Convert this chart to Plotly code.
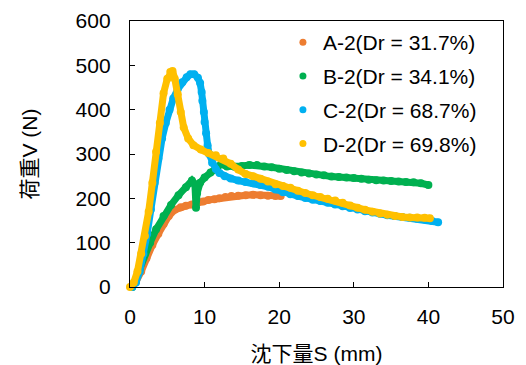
import plotly.graph_objects as go

# A-2 (Dr = 31.7%)
a_x = [0.2, 0.8, 1.5, 2.2, 3.0, 3.8, 4.5, 5.2, 6.0, 6.8, 7.5, 8.3, 9.0, 9.8, 10.5, 11.3, 12.0, 12.8, 13.6, 14.5, 15.5, 16.5, 17.5, 18.5, 19.5, 20.2]
a_y = [0, 12, 35, 65, 95, 120, 142, 160, 174, 180, 183, 186, 190, 193, 196, 198, 200, 203, 205, 206, 207, 208, 207, 206, 205, 205]

# B-2 (Dr = 34.1%)
b_x = [0.3, 0.8, 1.3, 2.0, 2.7, 3.5, 4.5, 5.5, 6.5, 7.5, 8.3, 8.7, 8.85, 8.85, 9.0, 9.4, 10.0, 10.8, 11.5, 12.2, 13.0, 14.0, 15.0, 16.0, 17.0, 18.0, 19.0, 20.0, 21.0, 22.0, 23.0, 24.0, 25.0, 26.0, 27.0, 28.0, 29.0, 30.0, 31.0, 32.0, 33.0, 34.0, 35.0, 36.0, 37.0, 38.0, 39.0, 40.0]
b_y = [0, 15, 40, 75, 100, 130, 160, 185, 207, 225, 240, 232, 207, 179, 212, 235, 247, 258, 268, 277, 272, 271, 273, 275, 275, 272, 270, 267, 264, 261, 258, 256, 254, 252, 249, 248, 247, 246, 244, 242, 241, 240, 239, 238, 237, 236, 234, 230]

# C-2 (Dr = 68.7%)
c_x = [0.3, 0.8, 1.3, 1.8, 2.3, 2.8, 3.3, 3.8, 4.3, 4.8, 5.3, 5.8, 6.4, 7.0, 7.6, 8.1, 8.6, 9.1, 9.4, 9.6, 9.7, 9.9, 10.0, 10.2, 10.4, 10.6, 11.0, 11.5, 12.0, 12.7, 13.5, 14.5, 15.5, 16.5, 17.5, 18.5, 19.5, 20.5, 21.5, 22.5, 23.5, 24.5, 25.5, 26.5, 27.5, 28.5, 29.5, 30.5, 31.5, 32.5, 33.5, 34.5, 35.5, 36.5, 37.5, 38.5, 39.5, 40.5, 41.3]
c_y = [0, 10, 35, 75, 120, 175, 235, 290, 335, 370, 400, 425, 446, 462, 473, 480, 480, 472, 460, 440, 420, 395, 372, 347, 320, 300, 280, 266, 257, 250, 245, 240, 237, 234, 230, 226, 220, 214, 209, 205, 201, 197, 194, 190, 186, 182, 178, 175, 171, 168, 165, 162, 160, 158, 156, 154, 152, 149, 146]

# D-2 (Dr = 69.8%)
d_x = [0.0, 0.5, 1.0, 1.5, 2.0, 2.5, 3.0, 3.5, 4.0, 4.5, 5.0, 5.4, 5.7, 6.0, 6.4, 6.8, 7.2, 7.8, 8.5, 9.5, 10.5, 11.5, 12.5, 13.5, 14.5, 15.5, 16.5, 17.5, 18.5, 19.5, 20.5, 21.5, 22.5, 23.5, 24.5, 25.5, 26.5, 27.5, 28.5, 29.5, 30.5, 31.5, 32.5, 33.5, 34.5, 35.5, 36.5, 37.5, 38.5, 39.5, 40.2]
d_y = [0, 10, 35, 75, 115, 170, 235, 305, 370, 437, 470, 485, 487, 470, 435, 395, 360, 335, 320, 310, 302, 297, 290, 278, 265, 255, 250, 244, 238, 232, 228, 224, 217, 212, 207, 203, 199, 195, 190, 184, 179, 174, 170, 166, 163, 160, 158, 157, 157, 156, 155]

names = ["A-2(Dr = 31.7%)", "B-2(Dr = 34.1%)", "C-2(Dr = 68.7%)", "D-2(Dr = 69.8%)"]
colors = ["#ED7D31", "#00B050", "#00B0F0", "#FFC000"]
series = [(a_x, a_y), (b_x, b_y), (c_x, c_y), (d_x, d_y)]

FONT = "Arial, 'Liberation Sans', 'Noto Sans CJK JP', sans-serif"
FS = 21

fig = go.Figure()
for (xs, ys), name, col in zip(series, names, colors):
    fig.add_trace(go.Scatter(
        x=xs, y=ys, mode="lines+markers", name=name, showlegend=False,
        line=dict(color=col, width=7), marker=dict(color=col, size=8),
        cliponaxis=False, legendgroup=name,
    ))
for name, col in zip(names, colors):
    fig.add_trace(go.Scatter(
        x=[None], y=[None], mode="markers", name=name,
        marker=dict(color=col, size=7), legendgroup=name,
    ))

axis_common = dict(
    showline=True, linecolor="black", linewidth=1.3, mirror=True,
    ticks="inside", ticklen=5, tickcolor="black", tickwidth=1.3,
    showgrid=False, zeroline=False, automargin=False,
    tickfont=dict(size=FS, color="black", family=FONT),
)

fig.update_layout(
    width=526, height=365,
    margin=dict(l=130, r=23, t=21, b=78),
    paper_bgcolor="white", plot_bgcolor="white",
    font=dict(family=FONT, size=FS, color="black"),
    xaxis=dict(range=[0, 50], dtick=10, tick0=0, ticklabelstandoff=11,
               title=dict(text="沈下量S (mm)", font=dict(size=FS), standoff=19),
               **axis_common),
    yaxis=dict(range=[0, 600], dtick=100, tick0=0, ticklabelstandoff=14,
               title=dict(text="荷重V (N)", font=dict(size=FS), standoff=32),
               **axis_common),
    legend=dict(x=0.41, y=0.996, xanchor="left", yanchor="top",
                bgcolor="rgba(0,0,0,0)", font=dict(size=FS),
                itemwidth=30, tracegroupgap=3.5),
)

fig.write_html("out.html")
